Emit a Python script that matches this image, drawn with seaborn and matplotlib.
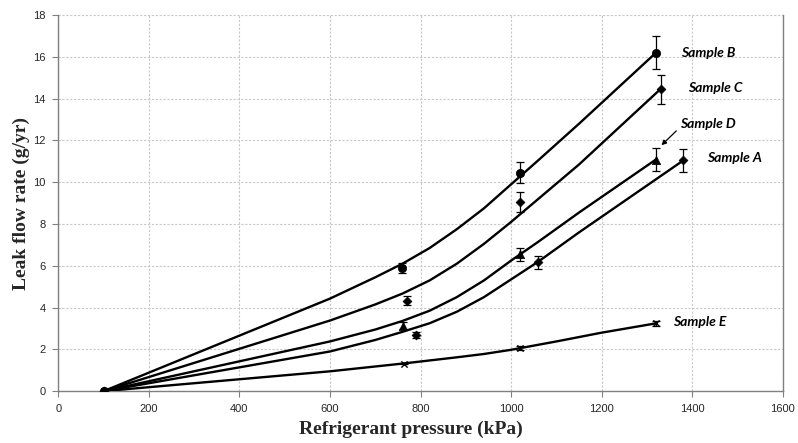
import matplotlib
matplotlib.use("Agg")
import matplotlib.pyplot as plt
import pandas as pd
import seaborn as sns

# measured points (pressure kPa, leak rate g/yr, error)
pres_b = [100, 760, 1020, 1320]
rate_b = [0, 5.9, 10.45, 16.2]
err_b = [0, 0.25, 0.5, 0.8]

pres_c = [100, 770, 1020, 1330]
rate_c = [0, 4.33, 9.05, 14.45]
err_c = [0, 0.22, 0.46, 0.7]

pres_d = [100, 762, 1020, 1320]
rate_d = [0, 3.14, 6.55, 11.08]
err_d = [0, 0.15, 0.32, 0.54]

pres_a = [100, 790, 1060, 1380]
rate_a = [0, 2.68, 6.17, 11.04]
err_a = [0, 0.15, 0.3, 0.56]

pres_e = [100, 764, 1020, 1321]
rate_e = [0, 1.32, 2.07, 3.25]
err_e = [0, 0.04, 0.08, 0.12]

# fitted curves
fit_x_b = [100, 600, 700, 760, 820, 880, 940, 1000, 1060, 1150, 1320]
fit_y_b = [0, 4.43, 5.45, 6.1, 6.85, 7.75, 8.75, 9.9, 11.05, 12.8, 16.2]
fit_x_c = [100, 600, 700, 760, 820, 880, 940, 1000, 1060, 1150, 1330]
fit_y_c = [0, 3.38, 4.15, 4.67, 5.3, 6.1, 7.05, 8.1, 9.2, 10.85, 14.46]
fit_x_d = [100, 600, 700, 760, 820, 880, 940, 1000, 1060, 1150, 1320]
fit_y_d = [0, 2.38, 2.95, 3.36, 3.85, 4.5, 5.3, 6.25, 7.15, 8.55, 11.09]
fit_x_a = [100, 600, 700, 760, 820, 880, 940, 1000, 1060, 1150, 1380]
fit_y_a = [0, 1.9, 2.45, 2.84, 3.25, 3.8, 4.5, 5.35, 6.2, 7.6, 11.04]
fit_x_e = [100, 600, 760, 880, 940, 1000, 1100, 1200, 1321]
fit_y_e = [0, 0.95, 1.32, 1.62, 1.78, 1.98, 2.38, 2.8, 3.25]

series = [
    ("Sample B", pres_b, rate_b, err_b, fit_x_b, fit_y_b, "o", 6),
    ("Sample C", pres_c, rate_c, err_c, fit_x_c, fit_y_c, "D", 4.5),
    ("Sample D", pres_d, rate_d, err_d, fit_x_d, fit_y_d, "^", 6),
    ("Sample A", pres_a, rate_a, err_a, fit_x_a, fit_y_a, "D", 4.5),
    ("Sample E", pres_e, rate_e, err_e, fit_x_e, fit_y_e, "x", 4.5),
]

# label positions (x, y) in data units
label_pos = {
    "Sample B": (1376, 16.2),
    "Sample C": (1390, 14.5),
    "Sample A": (1432, 11.15),
    "Sample E": (1357, 3.3),
}

sns.set_style("white")
fig = plt.figure(figsize=(7.98, 4.43), dpi=100)
ax = fig.add_axes([0.073, 0.117, 0.908, 0.849])

for name, px, py, pe, fx, fy, mk, ms in series:
    fit = pd.DataFrame({"x": fx, "y": fy})
    sns.lineplot(data=fit, x="x", y="y", ax=ax, color="black", lw=1.7,
                 estimator=None, sort=False, zorder=3)
    ax.errorbar(px, py, yerr=pe, fmt="none", ecolor="black", elinewidth=0.9,
                capsize=3, capthick=0.9, zorder=4)
    pts = pd.DataFrame({"x": px, "y": py})
    if mk == "x":
        sns.scatterplot(data=pts, x="x", y="y", ax=ax, marker="x", s=ms**2,
                        color="black", linewidth=1.0, zorder=5)
    else:
        sns.scatterplot(data=pts, x="x", y="y", ax=ax, marker=mk, s=ms**2,
                        color="black", edgecolor="black", linewidth=0.5, zorder=5)

lab_font = dict(family=["Lato", "DejaVu Sans"], fontweight="bold",
                fontstyle="italic", fontsize=10, color="black")
for name, (tx, ty) in label_pos.items():
    ax.text(tx, ty, name, ha="left", va="center", **lab_font)
ax.annotate("Sample D", xy=(1332, 11.77), xytext=(1372, 12.78),
            ha="left", va="center", **lab_font,
            arrowprops=dict(arrowstyle="-|>", color="black", lw=0.9,
                            mutation_scale=7, shrinkA=0, shrinkB=0,
                            relpos=(0, 0.2)))

ax.set_xlim(0, 1600)
ax.set_ylim(0, 18)
ax.set_xticks(range(0, 1601, 200))
ax.set_yticks(range(0, 19, 2))
ax.grid(True, color="#c8c8c8", linestyle=(0, (2, 1.5)), linewidth=0.8)
ax.set_axisbelow(True)

for s in ["left", "bottom", "right"]:
    ax.spines[s].set_color("#808080")
    ax.spines[s].set_linewidth(1.0)
ax.spines["top"].set_visible(False)
ax.tick_params(axis="both", direction="out", length=4, width=0.8,
               color="#808080", labelsize=8, pad=5, left=True, bottom=True)
for t in ax.get_xticklabels() + ax.get_yticklabels():
    t.set_family(["Liberation Sans", "DejaVu Sans"])

ax.set_xlabel("Refrigerant pressure (kPa)", family=["Liberation Serif"],
              fontweight="bold", fontsize=14)
ax.set_ylabel("Leak flow rate (g/yr)", family=["Liberation Serif"],
              fontweight="bold", fontsize=14)
ax.xaxis.set_label_coords(0.486, -0.078)
ax.yaxis.set_label_coords(-0.039, 0.5)

fig.savefig("out.png", dpi=100)
